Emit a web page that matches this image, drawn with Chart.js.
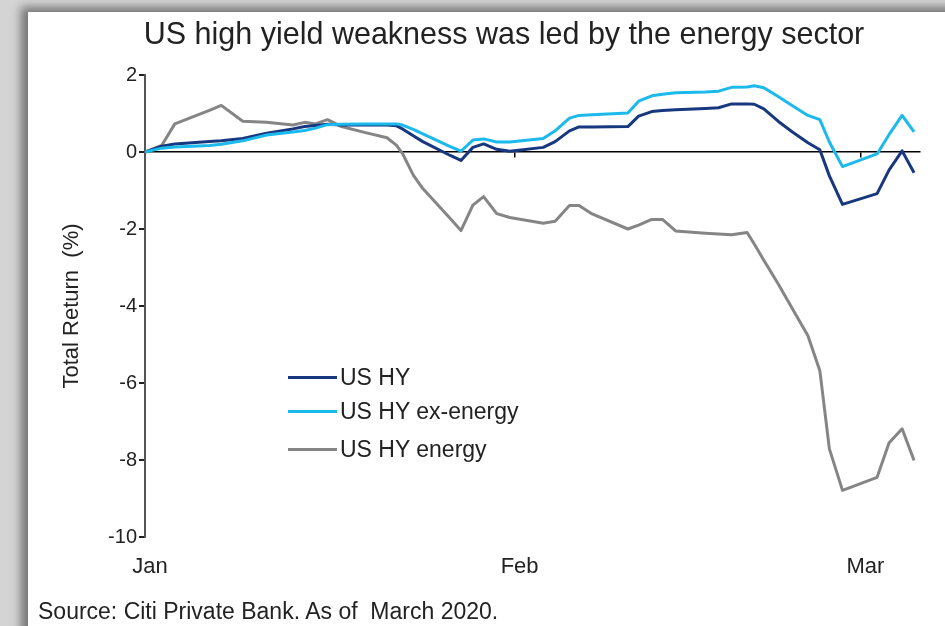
<!DOCTYPE html>
<html>
<head>
<meta charset="utf-8">
<script src="https://cdn.jsdelivr.net/npm/chart.js@4.4.1/dist/chart.umd.min.js"></script>
<style>
  html, body { margin: 0; padding: 0; }
  body {
    width: 945px; height: 626px; overflow: hidden; position: relative;
    background: #d4d4d4;
    font-family: "Liberation Sans", Arial, sans-serif; color: #222;
  }
  #card {
    position: absolute; left: 28px; top: 12px; width: 960px; height: 660px;
    background: #fff; box-shadow: -7px -5px 9px rgba(0,0,0,0.45);
  }
  #chart { position: absolute; left: 0; top: 0; }
  #title {
    position: absolute; left: 0; width: 1008px; top: 18px;
    text-align: center; font-size: 30.5px; line-height: 30px; white-space: nowrap;
  }
  #legend { position: absolute; left: 288px; top: 0; }
  .item {
    position: absolute; left: 0; display: flex; align-items: center;
    height: 24px; font-size: 23px; white-space: nowrap;
  }
  .swatch { width: 49px; height: 3px; margin-right: 3px; }
  #source {
    position: absolute; left: 38px; top: 600px;
    font-size: 23px; line-height: 22px; white-space: nowrap;
  }
</style>
</head>
<body>
<div id="card"></div>
<canvas id="chart" width="945" height="626"></canvas>
<div id="title">US high yield weakness was led by the energy sector</div>
<div id="legend"></div>
<div id="source">Source: Citi Private Bank. As of&nbsp; March 2020.</div>

<script>
// days counted from 1 Jan 2020
const days = [0, 1.4, 2.5, 5.4, 6.4, 8.2, 10.2, 12.4, 13.4, 14.3, 15.3, 16.4, 18.4, 20.3, 21.1, 21.6, 22.5, 23.3, 25.6, 26.5,
              27.5, 28.4, 29.5, 30.6, 33.4, 34.4, 35.6, 36.4, 37.5, 40.5, 41.4, 42.5, 43.4, 44.5, 47.0, 48.1, 49.2, 50.5, 51.1, 51.9,
              53.1, 54.3, 55.6, 56.6, 57.4, 58.5, 61.4, 62.4, 63.5, 64.5];

const usHY = [0, 0.15, 0.21, 0.27, 0.29, 0.35, 0.49, 0.60, 0.66, 0.69, 0.72, 0.70, 0.70, 0.70, 0.68, 0.60, 0.42, 0.27, -0.09, -0.22,
              0.12, 0.21, 0.07, 0.02, 0.12, 0.27, 0.55, 0.65, 0.65, 0.66, 0.93, 1.05, 1.08, 1.10, 1.13, 1.15, 1.25, 1.25, 1.24, 1.12,
              0.80, 0.52, 0.24, 0.06, -0.62, -1.36, -1.08, -0.47, 0.03, -0.54];

const usHYexEnergy = [0, 0.10, 0.13, 0.17, 0.20, 0.29, 0.44, 0.52, 0.56, 0.62, 0.71, 0.72, 0.73, 0.73, 0.73, 0.70, 0.59, 0.47, 0.14, 0.02,
                      0.31, 0.34, 0.26, 0.26, 0.35, 0.55, 0.88, 0.95, 0.97, 1.01, 1.32, 1.46, 1.50, 1.54, 1.56, 1.58, 1.68, 1.69, 1.72, 1.67,
                      1.44, 1.20, 0.95, 0.84, 0.26, -0.38, -0.05, 0.45, 0.95, 0.52];

const usHYenergy = [0, 0.17, 0.73, 1.08, 1.21, 0.80, 0.77, 0.70, 0.77, 0.73, 0.84, 0.67, 0.51, 0.37, 0.17, -0.04, -0.60, -0.95, -1.73, -2.04,
                    -1.38, -1.16, -1.60, -1.70, -1.85, -1.80, -1.39, -1.39, -1.61, -2.00, -1.90, -1.75, -1.75, -2.05, -2.11, -2.13, -2.15, -2.09, -2.39, -2.81,
                    -3.42, -4.07, -4.77, -5.68, -7.71, -8.79, -8.45, -7.56, -7.19, -8.01];

const monthStarts = [0, 31, 60];
const monthNames = ['Jan', 'Feb', 'Mar'];

const seriesNames = ['US HY', 'US HY ex-energy', 'US HY energy'];
const seriesColors = ['#17377f', '#1bb9ec', '#858585'];

function points(values) {
  return values.map((v, i) => ({ x: days[i], y: v }));
}

function monthTicks(scale) {
  scale.ticks = monthStarts.map(v => ({ value: v }));
}

const font = { family: '"Liberation Sans", Arial, sans-serif' };

const chart = new Chart(document.getElementById('chart'), {
  type: 'line',
  data: {
    datasets: [usHY, usHYexEnergy, usHYenergy].map((vals, i) => ({
      label: seriesNames[i],
      data: points(vals),
      xAxisID: 'x',
      borderColor: seriesColors[i],
      backgroundColor: seriesColors[i],
      borderWidth: 3,
      pointRadius: 0,
      tension: 0,
      borderJoinStyle: 'round',
      order: [1, 0, 2][i]
    }))
  },
  options: {
    responsive: false,
    animation: false,
    devicePixelRatio: 1,
    layout: { padding: { top: 75, right: 25, bottom: 39, left: 0 } },
    plugins: { legend: { display: false }, tooltip: { enabled: false } },
    scales: {
      // zero line with month tick marks
      x: {
        type: 'linear', min: 0, max: 65, position: { y: 0 },
        border: { color: '#000', width: 1.5 },
        grid: { drawOnChartArea: false, drawTicks: true, tickLength: 5, color: '#000', lineWidth: 1.5 },
        ticks: { display: false },
        afterBuildTicks: monthTicks
      },
      // month labels along the bottom
      x2: {
        type: 'linear', min: 0, max: 65, position: 'bottom',
        border: { display: false },
        grid: { display: false, drawTicks: false },
        ticks: {
          padding: 17, labelOffset: 5, autoSkip: false, maxRotation: 0,
          color: '#222', font: { ...font, size: 22 },
          callback: v => monthNames[monthStarts.indexOf(v)]
        },
        afterBuildTicks: monthTicks,
        afterFit: s => { s.height = 50; }
      },
      y: {
        min: -10, max: 2,
        border: { color: '#555', width: 2 },
        grid: { drawOnChartArea: false, drawTicks: true, tickLength: 6, color: '#222', lineWidth: 2 },
        ticks: { stepSize: 2, padding: 2, color: '#222', font: { ...font, size: 20 } },
        title: {
          display: true, text: 'Total Return  (%)', color: '#222',
          font: { ...font, size: 22 }, padding: { top: 59, bottom: 0 }
        },
        afterFit: s => { s.width = 145; }
      }
    }
  }
});

// legend
const legendTops = [365, 399, 437];
const legend = document.getElementById('legend');
chart.data.datasets.forEach((ds, i) => {
  const item = document.createElement('div');
  item.className = 'item';
  item.style.top = legendTops[i] + 'px';
  const sw = document.createElement('span');
  sw.className = 'swatch';
  sw.style.background = ds.borderColor;
  item.appendChild(sw);
  item.appendChild(document.createTextNode(ds.label));
  legend.appendChild(item);
});
</script>
</body>
</html>
